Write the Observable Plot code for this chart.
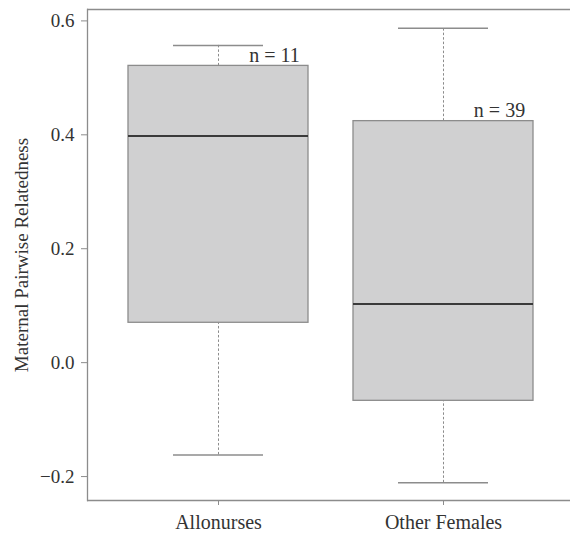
<!DOCTYPE html>
<html>
<head>
<meta charset="utf-8">
<script src="https://cdn.jsdelivr.net/npm/d3@7"></script>
<script src="https://cdn.jsdelivr.net/npm/@observablehq/plot@0.6"></script>
<style>
  html, body { margin: 0; padding: 0; background: #fff; overflow: hidden; }
  #chart svg { overflow: hidden; }
</style>
</head>
<body>
<div id="chart"></div>
<script>
// Data
const groups = ["Allonurses", "Other Females"];
const lowerWhisker = [-0.162, -0.211];
const q1 = [0.070, -0.067];
const median = [0.398, 0.103];
const q3 = [0.521, 0.424];
const upperWhisker = [0.557, 0.587];
const counts = [11, 39];
const yTicks = [-0.2, 0.0, 0.2, 0.4, 0.6];
const yDomain = [-0.242, 0.620];
const yLabel = "Maternal Pairwise Relatedness";

const data = groups.map((g, i) => ({
  group: g, lo: lowerWhisker[i], q1: q1[i], med: median[i], q3: q3[i], hi: upperWhisker[i], n: counts[i]
}));

const gray = "#8c8c8c";
const serif = "Liberation Serif";

const chart = Plot.plot({
  width: 570,
  height: 534,
  marginLeft: 87,
  marginRight: 0,
  marginTop: 9,
  marginBottom: 34,
  style: { fontFamily: serif },
  x: { type: "band", domain: groups, paddingInner: 0.2018, paddingOuter: 0.172, align: 0.52, label: null },
  y: { domain: yDomain, label: null },
  marks: [
    // open frame: left, top and bottom sides only (the right side is cropped in the reference)
    Plot.frame({ anchor: "left", stroke: gray, strokeWidth: 1.3 }),
    Plot.ruleY([yDomain[1]], { stroke: gray, strokeWidth: 1.3 }),
    Plot.ruleY([yDomain[0]], { stroke: gray, strokeWidth: 1.3 }),
    // whiskers (dashed)
    Plot.ruleX(data, { x: "group", y1: "q3", y2: "hi", stroke: gray, strokeDasharray: "2.5,2", strokeWidth: 1 }),
    Plot.ruleX(data, { x: "group", y1: "lo", y2: "q1", stroke: gray, strokeDasharray: "2.5,2", strokeWidth: 1 }),
    // caps
    Plot.tickY(data, { x: "group", y: "hi", stroke: gray, strokeWidth: 1.5, insetLeft: 45, insetRight: 45 }),
    Plot.tickY(data, { x: "group", y: "lo", stroke: gray, strokeWidth: 1.5, insetLeft: 45, insetRight: 45 }),
    // boxes
    Plot.barY(data, { x: "group", y1: "q1", y2: "q3", fill: "#d0d0d1", stroke: gray, strokeWidth: 1.3 }),
    // medians
    Plot.tickY(data, { x: "group", y: "med", stroke: "#3a3a3a", strokeWidth: 2 }),
    // n labels
    Plot.text(data, { x: "group", y: "q3", text: d => `n = ${d.n}`, dx: 56, dy: -4, lineAnchor: "bottom", fill: "#333", fontSize: 20, fontFamily: serif }),
    Plot.axisY({
      ticks: yTicks, tickFormat: d3.format(".1f"), tickSize: 6, tickPadding: 7, stroke: gray, fill: "#333",
      fontSize: 19, fontFamily: serif,
      label: yLabel, labelAnchor: "center", labelOffset: 73, labelArrow: false
    }),
    Plot.axisX({ tickSize: 5, tickPadding: 9, stroke: gray, fill: "#333", fontSize: 20, fontFamily: serif, label: null })
  ]
});

d3.select(chart).selectAll("text").style("font-family", serif);

document.getElementById("chart").appendChild(chart);
</script>
</body>
</html>
